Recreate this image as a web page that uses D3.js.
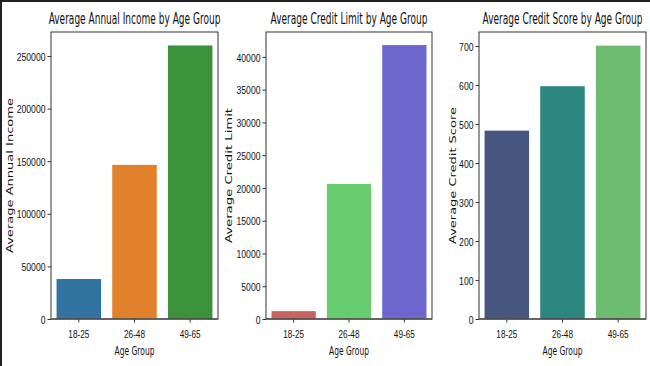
<!DOCTYPE html>
<html>
<head>
<meta charset="utf-8">
<script src="https://cdn.jsdelivr.net/npm/d3@7"></script>
<style>
  html, body { margin: 0; padding: 0; background: #fff; }
  svg { display: block; font-family: "DejaVu Sans", sans-serif; }
</style>
</head>
<body>
<svg id="chart" width="650" height="366"></svg>
<script>
// Data
const ageGroups = ['18-25', '26-48', '49-65'];
const avgIncome = [38000, 146500, 260000];
const avgCreditLimit = [1200, 20600, 41800];
const avgCreditScore = [483, 597, 701];

const incomeTicks = [0, 50000, 100000, 150000, 200000, 250000];
const limitTicks = [0, 5000, 10000, 15000, 20000, 25000, 30000, 35000, 40000];
const scoreTicks = [0, 100, 200, 300, 400, 500, 600, 700];

// seaborn palettes (desaturated to 0.75)
const incomeColors = ['#3274a1', '#e1812c', '#3a923a'];
const limitColors = ['#c9635d', '#66cc6e', '#6c66cd'];
const scoreColors = ['#46567f', '#2d8680', '#6bbc6e'];

const panels = [
  { title: 'Average Annual Income by Age Group', ylabel: 'Average Annual Income',
    values: avgIncome, ticks: incomeTicks, colors: incomeColors, ymax: 272800,
    left: 51, right: 218, titleW: 172, ylabW: 155, ylabX: 13 },
  { title: 'Average Credit Limit by Age Group', ylabel: 'Average Credit Limit',
    values: avgCreditLimit, ticks: limitTicks, colors: limitColors, ymax: 43800,
    left: 266, right: 432, titleW: 157, ylabW: 135, ylabX: 232 },
  { title: 'Average Credit Score by Age Group', ylabel: 'Average Credit Score',
    values: avgCreditScore, ticks: scoreTicks, colors: scoreColors, ymax: 736,
    left: 479, right: 646, titleW: 160, ylabW: 137, ylabX: 455.5 },
];

const plotTop = 32;
const plotBottom = 319;
const svg = d3.select('#chart');

// The reference is squashed sideways, so squeeze each text to its measured width
function squeeze(sel, tx, ty, width) {
  sel.each(function (d) {
    const w = typeof width === 'function' ? width(d) : width;
    const len = this.getComputedTextLength() || w;
    d3.select(this)
      .attr('x', 0)
      .attr('y', 0)
      .attr('transform', `translate(${tx},${ty}) scale(${w / len},1)`);
  });
}

// dark frame at the image's top and left edges
svg.append('rect').attr('x', 0).attr('y', 0).attr('width', 650).attr('height', 2).attr('fill', '#222');
svg.append('rect').attr('x', 0).attr('y', 0).attr('width', 2).attr('height', 366).attr('fill', '#222');

panels.forEach((p) => {
  const x = d3.scaleBand().domain(ageGroups).range([p.left, p.right])
    .paddingInner(0.2).paddingOuter(0.1);
  const y = d3.scaleLinear().domain([0, p.ymax]).range([plotBottom, plotTop]);

  const g = svg.append('g');

  g.selectAll('rect.bar')
    .data(p.values)
    .enter()
    .append('rect')
    .attr('class', 'bar')
    .attr('x', (_d, i) => x(ageGroups[i]))
    .attr('width', x.bandwidth())
    .attr('y', (d) => y(d))
    .attr('height', (d) => plotBottom - y(d))
    .attr('fill', (_d, i) => p.colors[i]);

  // y axis
  const ya = g.append('g')
    .attr('transform', `translate(${p.left},0)`)
    .call(d3.axisLeft(y).tickValues(p.ticks).tickFormat(d3.format('d')).tickSize(3.5).tickPadding(2));
  ya.select('.domain').remove();
  ya.selectAll('line').attr('stroke', '#333');
  ya.selectAll('text')
    .attr('font-size', 11.5)
    .attr('fill', '#111')
    .attr('dy', '0.36em')
    .call(squeeze, -5.5, 0, (d) => String(d).length * 4.8);

  // x axis
  const xa = g.append('g')
    .attr('transform', `translate(0,${plotBottom})`)
    .call(d3.axisBottom(x).tickSize(3.5).tickPadding(3));
  xa.select('.domain').remove();
  xa.selectAll('line').attr('stroke', '#333');
  xa.selectAll('text')
    .attr('font-size', 11.5)
    .attr('fill', '#111')
    .attr('dy', null)
    .call(squeeze, 0, 19, 21);

  // frame
  g.append('rect')
    .attr('x', p.left).attr('y', plotTop)
    .attr('width', p.right - p.left).attr('height', plotBottom - plotTop)
    .attr('fill', 'none').attr('stroke', '#333').attr('stroke-width', 1);
  g.append('line')
    .attr('x1', p.left).attr('x2', p.right).attr('y1', plotBottom).attr('y2', plotBottom)
    .attr('stroke', '#555').attr('stroke-width', 1.6);

  const cx = (p.left + p.right) / 2;

  // title
  g.append('text')
    .attr('text-anchor', 'middle')
    .attr('font-size', 15)
    .attr('fill', '#111')
    .text(p.title)
    .call(squeeze, cx, 23.5, p.titleW);

  // x label
  g.append('text')
    .attr('text-anchor', 'middle')
    .attr('font-size', 12.5)
    .attr('fill', '#111')
    .text('Age Group')
    .call(squeeze, cx, 355, 40);

  // y label (rotated, squashed across its thickness)
  g.append('text')
    .attr('transform', `translate(${p.ylabX},${(plotTop + plotBottom) / 2}) rotate(-90) scale(${p.ylabW / 150},0.72)`)
    .attr('text-anchor', 'middle')
    .attr('font-size', 12)
    .attr('fill', '#111')
    .text(p.ylabel)
    .each(function () {
      const len = this.getComputedTextLength();
      d3.select(this).attr('transform',
        `translate(${p.ylabX},${(plotTop + plotBottom) / 2}) rotate(-90) scale(${p.ylabW / len},0.72)`);
    });
});
</script>
</body>
</html>
